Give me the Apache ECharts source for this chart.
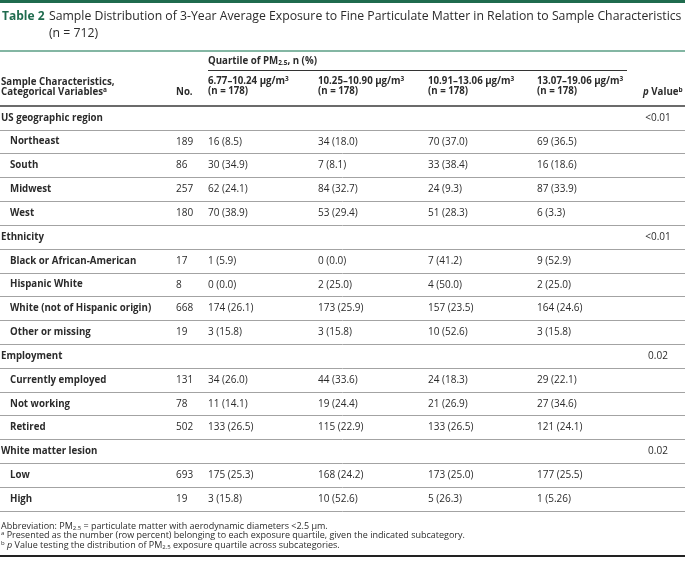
<!DOCTYPE html>
<html>
<head>
<meta charset="utf-8">
<script src="https://cdn.jsdelivr.net/npm/echarts@6/dist/echarts.min.js"></script>
<style>html,body{margin:0;padding:0;background:#fff}#c{width:685px;height:565px}</style>
</head>
<body>
<div id="c"></div>
<script>
// ---------- data ----------
const rowLabels = ['US geographic region','Northeast','South','Midwest','West','Ethnicity','Black or African-American','Hispanic White','White (not of Hispanic origin)','Other or missing','Employment','Currently employed','Not working','Retired','White matter lesion','Low','High'];
const rowIsGroup = [1,0,0,0,0,1,0,0,0,0,1,0,0,0,1,0,0];
const nValues = [null,189,86,257,180,null,17,8,668,19,null,131,78,502,null,693,19];
const q1 = [null,'16 (8.5)','30 (34.9)','62 (24.1)','70 (38.9)',null,'1 (5.9)','0 (0.0)','174 (26.1)','3 (15.8)',null,'34 (26.0)','11 (14.1)','133 (26.5)',null,'175 (25.3)','3 (15.8)'];
const q2 = [null,'34 (18.0)','7 (8.1)','84 (32.7)','53 (29.4)',null,'0 (0.0)','2 (25.0)','173 (25.9)','3 (15.8)',null,'44 (33.6)','19 (24.4)','115 (22.9)',null,'168 (24.2)','10 (52.6)'];
const q3 = [null,'70 (37.0)','33 (38.4)','24 (9.3)','51 (28.3)',null,'7 (41.2)','4 (50.0)','157 (23.5)','10 (52.6)',null,'24 (18.3)','21 (26.9)','133 (26.5)',null,'173 (25.0)','5 (26.3)'];
const q4 = [null,'69 (36.5)','16 (18.6)','87 (33.9)','6 (3.3)',null,'9 (52.9)','2 (25.0)','164 (24.6)','3 (15.8)',null,'29 (22.1)','27 (34.6)','121 (24.1)',null,'177 (25.5)','1 (5.26)'];
const pValues = ['<0.01',null,null,null,null,'<0.01',null,null,null,null,'0.02',null,null,null,'0.02',null,null];
const quartileRanges = ['6.77–10.24','10.25–10.90','10.91–13.06','13.07–19.06'];
const quartileN = [178,178,178,178];
const totalN = 712;
const titleLabel = 'Table 2';
const titleText = 'Sample Distribution of 3-Year Average Exposure to Fine Particulate Matter in Relation to Sample Characteristics';

// ---------- layout ----------
const FONT = '"Open Sans", "Noto Sans", sans-serif';
const TXT = '#2b2b2b';
const GREEN = '#1f6b4e';
const BOLD = 'bold 9.7px ' + FONT;
const colX = {label: 1, sub: 10, n: 176, q: [208, 318, 428, 537], p: 658};

const columns = [
  {key:'label', vals: rowLabels},
  {key:'n', vals: nValues},
  {key:'q0', vals: q1},
  {key:'q1', vals: q2},
  {key:'q2', vals: q3},
  {key:'q3', vals: q4},
  {key:'p', vals: pValues}
];
function xOf(key, row){
  if (key === 'label') return rowIsGroup[row] ? colX.label : colX.sub;
  if (key === 'n') return colX.n;
  if (key === 'p') return colX.p;
  return colX.q[+key.slice(1)];
}
const cells = [];
columns.forEach(c => c.vals.forEach((v, r) => {
  if (v === null || v === undefined) return;
  cells.push({value:[xOf(c.key, r), r], text: String(v), bold: c.key === 'label', center: c.key === 'p'});
}));

const chart = echarts.init(document.getElementById('c'), null, {renderer:'canvas'});
const sup = {fontSize: 6.5, verticalAlign: 'top', fill: TXT, fontFamily: FONT, fontWeight: 'bold', lineHeight: 11};
const sub = {fontSize: 6.5, verticalAlign: 'bottom', fill: TXT, fontFamily: FONT, fontWeight: 'bold', lineHeight: 11};
function gtext(x, y, text, font, extra){
  return {type:'text', x, y, silent:true, z: 10, style: Object.assign({
    text, fill: TXT, font: font, align: 'left', verticalAlign: 'middle'
  }, extra || {})};
}
const graphics = [
  {type:'rect', shape:{x:0, y:0, width:685, height:3}, style:{fill: GREEN}, silent:true},
  gtext(2, 17, titleLabel, 'bold 12px ' + FONT, {fill: GREEN}),
  gtext(49, 17, titleText, '12.25px ' + FONT),
  gtext(49, 34, '(n = ' + totalN + ')', '12.25px ' + FONT),
  {type:'line', shape:{x1:0, y1:51, x2:685, y2:51}, style:{stroke:'#5a9e84', lineWidth:1.5}, silent:true},
  gtext(colX.q[0], 61, 'Quartile of PM{sub|2.5}, n (%)', BOLD, {rich:{sub: sub}}),
  {type:'line', shape:{x1: colX.q[0], y1:70.5, x2:627, y2:70.5}, style:{stroke:'#333', lineWidth:1}, silent:true},
  gtext(1, 82, 'Sample Characteristics,', BOLD),
  gtext(1, 92, 'Categorical Variables{sup|a}', BOLD, {rich:{sup: sup}}),
  gtext(colX.n, 92, 'No.', BOLD),
  gtext(643, 92, '{it|p} Value{sup|b}', BOLD, {rich:{sup: sup, it:{fontStyle:'italic', fontWeight:'bold', fontSize:9.7, fontFamily:FONT, fill:TXT}}}),
  {type:'line', shape:{x1:0, y1:106, x2:685, y2:106}, style:{stroke:'#6b6b6b', lineWidth:2}, silent:true, z: 20},
  gtext(1, 526, 'Abbreviation: PM{s|2.5} = particulate matter with aerodynamic diameters <2.5 μm.', '9px ' + FONT,
    {rich:{s:{fontSize:6, verticalAlign:'bottom', fontFamily:FONT, fill:TXT, lineHeight:10}}}),
  gtext(1, 535.5, '{s|a} Presented as the number (row percent) belonging to each exposure quartile, given the indicated subcategory.', '9px ' + FONT,
    {rich:{s:{fontSize:6, verticalAlign:'top', fontFamily:FONT, fill:TXT, lineHeight:10}}}),
  gtext(1, 545, '{s|b} {i|p} Value testing the distribution of PM{d|2.5} exposure quartile across subcategories.', '9px ' + FONT,
    {rich:{s:{fontSize:6, verticalAlign:'top', fontFamily:FONT, fill:TXT, lineHeight:10},
          d:{fontSize:6, verticalAlign:'bottom', fontFamily:FONT, fill:TXT, lineHeight:10},
          i:{fontStyle:'italic', fontSize:9, fontFamily:FONT, fill:TXT}}}),
  {type:'line', shape:{x1:0, y1:556, x2:685, y2:556}, style:{stroke:'#222', lineWidth:2}, silent:true}
];
quartileRanges.forEach((r, i) => {
  graphics.push(gtext(colX.q[i], 81, r + ' μg/m{sup|3}', BOLD, {rich:{sup: sup}}));
  graphics.push(gtext(colX.q[i], 91, '(n = ' + quartileN[i] + ')', BOLD));
});

chart.setOption({
  animation: false,
  grid: {left: 0, right: 0, top: 106, height: 405},
  xAxis: {type:'value', min:0, max:685, show:false},
  yAxis: {type:'category', data: rowLabels, inverse:true, boundaryGap:true,
    axisLine:{show:false}, axisTick:{show:false}, axisLabel:{show:false},
    splitLine:{show:true, interval:0, lineStyle:{color:'#a3a3a3', width:1}}},
  graphic: graphics,
  series: [{
    type:'custom',
    coordinateSystem:'cartesian2d',
    data: cells.map(c => c.value),
    renderItem: function(params, api){
      const c = cells[params.dataIndex];
      const pt = api.coord([api.value(0), api.value(1)]);
      return {type:'text', x: pt[0], y: pt[1], style:{
        text: c.text, fill: TXT, font: c.bold ? BOLD : '10px ' + FONT,
        align: c.center ? 'center' : 'left', verticalAlign:'middle'}};
    }
  }]
});
</script>
</body>
</html>
